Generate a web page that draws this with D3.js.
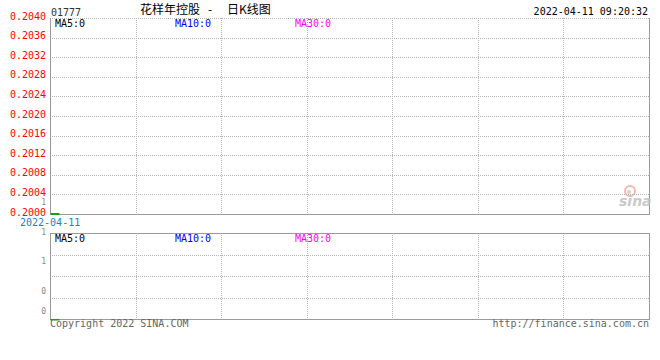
<!DOCTYPE html>
<html><head><meta charset="utf-8">
<script src="https://cdn.jsdelivr.net/npm/d3@7/dist/d3.min.js"></script>
<style>
html,body{margin:0;padding:0;background:#fff;}
svg{display:block;}
text{font-family:"DejaVu Sans Mono",monospace;font-size:10px;}
</style></head>
<body>
<svg id="c" width="660" height="360"></svg>
<script>
// ---- data ----
const stockCode = "01777";
const titleName = "花样年控股";
const titleKind = "日K线图";
const timestamp = "2022-04-11 09:20:32";
const dates  = ["2022-04-11"];
const opens  = [0.2000];
const highs  = [0.2000];
const lows   = [0.2000];
const closes = [0.2000];
const volumes = [0];
const priceTicks = [0.2000,0.2004,0.2008,0.2012,0.2016,0.2020,0.2024,0.2028,0.2032,0.2036,0.2040];
const volTickLabels = ["1","1","1","0","0"];
const maLabels = ["MA5:0","MA10:0","MA30:0"];
const copyright = "Copyright 2022 SINA.COM";
const siteUrl = "http://finance.sina.com.cn";

// ---- layout ----
const svg = d3.select("#c");
const L = 50, R = 649;
const mainTop = 18, mainBot = 214;
const volTop = 233, volBot = 319;
const nCols = 7;
const gridColor = "#b4b4b4", borderColor = "#9a9a9a";

const y = d3.scaleLinear().domain([0.2000, 0.2040]).range([mainBot, mainTop]);
const x = d3.scaleBand().domain(dates).range([L, L + 10]).paddingInner(0.1).paddingOuter(0);
const colX = d3.scaleLinear().domain([0, nCols]).range([L, R]);
const vy = d3.scaleLinear().domain([0, 1]).range([volBot, volTop]);

// header
svg.append("text").attr("x", 51).attr("y", 16).attr("fill", "#333").text(stockCode);
svg.append("text").attr("x", 140).attr("y", 14).style("font-family", "'Noto Sans CJK SC'").style("font-size", "12px").attr("fill", "#000").text(titleName);
svg.append("text").attr("x", 210).attr("y", 14).attr("text-anchor", "middle").style("font-family", "'Noto Sans CJK SC'").style("font-size", "12px").attr("fill", "#000").text("-");
svg.append("text").attr("x", 227).attr("y", 14).style("font-family", "'Noto Sans CJK SC'").style("font-size", "12px").attr("fill", "#000").text(titleKind);
svg.append("text").attr("x", 648).attr("y", 15).attr("text-anchor", "end").attr("fill", "#000").text(timestamp);

// main grid
const gMain = svg.append("g");
gMain.selectAll("line.h").data(priceTicks.slice(1)).join("line")
  .attr("x1", L).attr("x2", R).attr("y1", d => Math.round(y(d)) + 0.5).attr("y2", d => Math.round(y(d)) + 0.5)
  .attr("stroke", gridColor).attr("stroke-dasharray", "1,1");
gMain.selectAll("line.v").data(d3.range(1, nCols)).join("line")
  .attr("x1", d => Math.round(colX(d)) + 0.5).attr("x2", d => Math.round(colX(d)) + 0.5)
  .attr("y1", mainTop).attr("y2", mainBot).attr("stroke", gridColor).attr("stroke-dasharray", "1,1");
// borders
gMain.append("line").attr("x1", L + 0.5).attr("x2", L + 0.5).attr("y1", mainTop).attr("y2", mainBot).attr("stroke", borderColor);
gMain.append("line").attr("x1", R + 0.5).attr("x2", R + 0.5).attr("y1", mainTop).attr("y2", mainBot + 1).attr("stroke", borderColor);
gMain.append("line").attr("x1", L).attr("x2", R + 1).attr("y1", mainBot + 0.5).attr("y2", mainBot + 0.5).attr("stroke", borderColor);

// price labels
svg.selectAll("text.p").data(priceTicks).join("text")
  .attr("x", 46).attr("y", d => y(d) + 1.5).attr("text-anchor", "end").attr("fill", "#f00")
  .text(d => d.toFixed(4));

// volume panel grid
const gVol = svg.append("g");
gVol.selectAll("line.h").data([1, 2, 3]).join("line")
  .attr("x1", L).attr("x2", R).attr("y1", d => Math.round(volTop + d * (volBot - volTop) / 4) + 0.5)
  .attr("y2", d => Math.round(volTop + d * (volBot - volTop) / 4) + 0.5)
  .attr("stroke", gridColor).attr("stroke-dasharray", "1,1");
gVol.selectAll("line.v").data(d3.range(1, nCols)).join("line")
  .attr("x1", d => Math.round(colX(d)) + 0.5).attr("x2", d => Math.round(colX(d)) + 0.5)
  .attr("y1", volTop).attr("y2", volBot).attr("stroke", gridColor).attr("stroke-dasharray", "1,1");
gVol.append("line").attr("x1", L).attr("x2", R + 1).attr("y1", volTop + 0.5).attr("y2", volTop + 0.5).attr("stroke", borderColor);
gVol.append("line").attr("x1", L + 0.5).attr("x2", L + 0.5).attr("y1", volTop).attr("y2", volBot).attr("stroke", borderColor);
gVol.append("line").attr("x1", R + 0.5).attr("x2", R + 0.5).attr("y1", volTop).attr("y2", volBot + 1).attr("stroke", borderColor);
gVol.append("line").attr("x1", L).attr("x2", R + 1).attr("y1", volBot + 0.5).attr("y2", volBot + 0.5).attr("stroke", borderColor);

// volume labels (gray)
const volLabelY = [205, 235, 264, 294, 314];
svg.selectAll("text.v").data(volTickLabels).join("text")
  .attr("x", 46).attr("y", (d, i) => volLabelY[i]).attr("text-anchor", "end").attr("fill", "#888")
  .style("font-size", "8px")
  .text(d => d);

// date label
svg.selectAll("text.d").data(dates).join("text")
  .attr("x", 20).attr("y", 226).attr("fill", "#1183d6").text(d => d);

// MA labels
const maColors = ["#000", "#0000ee", "#ff00ff"];
const maX = [55, 175, 295];
[27, 242].forEach(by => {
  svg.selectAll(null).data(maLabels).join("text")
    .attr("x", (d, i) => maX[i]).attr("y", by).attr("fill", (d, i) => maColors[i]).text(d => d);
});

// candles
svg.selectAll("rect.k").data(dates).join("rect")
  .attr("x", d => x(d)).attr("width", x.bandwidth())
  .attr("y", (d, i) => y(Math.max(opens[i], closes[i])) - 1)
  .attr("height", (d, i) => Math.max(2, y(Math.min(opens[i], closes[i])) - y(Math.max(opens[i], closes[i]))))
  .attr("fill", "#1a9e1a");
// volume bars
svg.selectAll("rect.vb").data(dates).join("rect")
  .attr("x", d => x(d)).attr("width", x.bandwidth())
  .attr("y", (d, i) => vy(volumes[i]))
  .attr("height", (d, i) => Math.max(1.5, vy(0) - vy(volumes[i])))
  .attr("fill", "#1a9e1a");

// footer
svg.append("text").attr("x", 50).attr("y", 327).attr("fill", "#666").text(copyright);
svg.append("text").attr("x", 649).attr("y", 327).attr("text-anchor", "end").attr("fill", "#666").text(siteUrl);

// sina watermark
const wm = svg.append("g").attr("opacity", 0.8);
wm.append("circle").attr("cx", 630).attr("cy", 191).attr("r", 5).attr("fill", "none").attr("stroke", "#f3a5a5").attr("stroke-width", 2);
wm.append("circle").attr("cx", 629).attr("cy", 192).attr("r", 2).attr("fill", "#c8c8c8");
wm.append("text").attr("x", 619).attr("y", 206).style("font-family", "'DejaVu Sans'").style("font-size", "14px")
  .style("font-style", "italic").style("font-weight", "bold").attr("fill", "#bdbdbd").text("sina");
</script>
</body></html>
